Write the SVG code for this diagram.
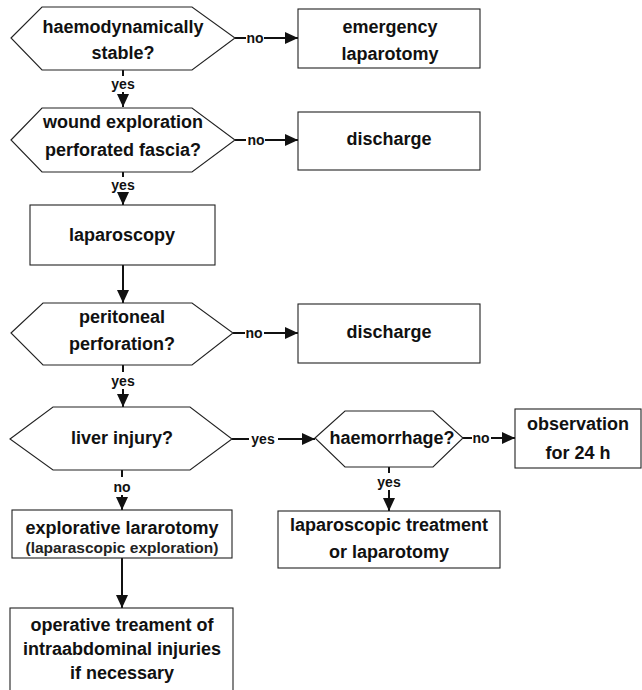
<svg xmlns="http://www.w3.org/2000/svg" width="642" height="690" viewBox="0 0 642 690">
<style>
.shape{fill:#fff;stroke:#222;stroke-width:1.1}
.t{font-family:"Liberation Sans",Arial,sans-serif;font-weight:bold;font-size:18px;fill:#111;text-anchor:middle}
.s{font-family:"Liberation Sans",Arial,sans-serif;font-weight:bold;font-size:15.5px;fill:#222;text-anchor:middle}
.lbl{font-family:"Liberation Sans",Arial,sans-serif;font-weight:bold;font-size:14px;fill:#111;text-anchor:middle}
.c{fill:none;stroke:#111;stroke-width:2}
.ca{fill:none;stroke:#111;stroke-width:2;marker-end:url(#ah)}
</style>
<defs>
<marker id="ah" markerUnits="userSpaceOnUse" markerWidth="14" markerHeight="12" refX="13" refY="6" orient="auto">
<path d="M0,0 L13,6 L0,12 Z" fill="#111"/>
</marker>
</defs>
<rect width="642" height="690" fill="#fff"/>

<g id="connectors">
<line class="c" x1="235" y1="38" x2="246" y2="38"/>
<line class="ca" x1="264" y1="38" x2="298" y2="38"/>
<line class="c" x1="123" y1="70" x2="123" y2="76"/>
<line class="ca" x1="123" y1="92" x2="123" y2="107"/>
<line class="c" x1="235" y1="140" x2="246" y2="140"/>
<line class="ca" x1="265" y1="140" x2="298" y2="140"/>
<line class="c" x1="123" y1="172" x2="123" y2="177"/>
<line class="ca" x1="123" y1="192" x2="123" y2="205"/>
<line class="ca" x1="123" y1="265" x2="123" y2="303"/>
<line class="c" x1="233" y1="333" x2="245" y2="333"/>
<line class="ca" x1="264" y1="333" x2="298" y2="333"/>
<line class="c" x1="123" y1="365" x2="123" y2="372"/>
<line class="ca" x1="123" y1="389" x2="123" y2="407"/>
<line class="c" x1="232" y1="439" x2="249" y2="439"/>
<line class="ca" x1="278" y1="439" x2="315" y2="439"/>
<line class="c" x1="463" y1="438" x2="472" y2="438"/>
<line class="ca" x1="491" y1="438" x2="515" y2="438"/>
<line class="c" x1="389" y1="467" x2="389" y2="473"/>
<line class="ca" x1="389" y1="490" x2="389" y2="511"/>
<line class="c" x1="122" y1="470" x2="122" y2="477"/>
<line class="ca" x1="122" y1="495" x2="122" y2="510"/>
<line class="ca" x1="122" y1="558" x2="122" y2="608"/>
<text class="lbl" x="255" y="43">no</text>
<text class="lbl" x="123" y="89">yes</text>
<text class="lbl" x="256" y="145">no</text>
<text class="lbl" x="123" y="190">yes</text>
<text class="lbl" x="254" y="338">no</text>
<text class="lbl" x="123" y="386">yes</text>
<text class="lbl" x="263" y="444">yes</text>
<text class="lbl" x="481" y="443">no</text>
<text class="lbl" x="389" y="487">yes</text>
<text class="lbl" x="122" y="492">no</text>
</g>

<g id="q-stable">
<polygon class="shape" points="11,38 42,7 192,7 235,38 192,70 42,70"/>
<text class="t" x="123" y="33">haemodynamically</text>
<text class="t" x="123" y="59">stable?</text>
</g>
<g id="emergency">
<rect class="shape" x="298" y="9" width="182" height="59"/>
<text class="t" x="390" y="33">emergency</text>
<text class="t" x="390" y="60">laparotomy</text>
</g>
<g id="q-wound">
<polygon class="shape" points="11,140 42,108 192,108 235,140 192,172 42,172"/>
<text class="t" x="123" y="128">wound exploration</text>
<text class="t" x="123" y="156">perforated fascia?</text>
</g>
<g id="discharge1">
<rect class="shape" x="298" y="112" width="182" height="58"/>
<text class="t" x="389" y="145">discharge</text>
</g>
<g id="laparoscopy">
<rect class="shape" x="30" y="205" width="185" height="60"/>
<text class="t" x="122" y="241">laparoscopy</text>
</g>
<g id="q-peritoneal">
<polygon class="shape" points="11,333 43,303 192,303 233,333 192,365 43,365"/>
<text class="t" x="122" y="323">peritoneal</text>
<text class="t" x="122" y="350">perforation?</text>
</g>
<g id="discharge2">
<rect class="shape" x="298" y="304" width="182" height="59"/>
<text class="t" x="389" y="338">discharge</text>
</g>
<g id="q-liver">
<polygon class="shape" points="10,439 53,407 190,407 232,439 190,470 53,470"/>
<text class="t" x="122" y="444">liver injury?</text>
</g>
<g id="q-haemorrhage">
<polygon class="shape" points="315,438 345,411 433,411 463,438 433,467 345,467"/>
<text class="t" x="392" y="444">haemorrhage?</text>
</g>
<g id="observation">
<rect class="shape" x="515" y="409" width="126" height="59"/>
<text class="t" x="578" y="430">observation</text>
<text class="t" x="578" y="459">for 24 h</text>
</g>
<g id="lap-treatment">
<rect class="shape" x="278" y="511" width="222" height="57"/>
<text class="t" x="389" y="531">laparoscopic treatment</text>
<text class="t" x="389" y="558">or laparotomy</text>
</g>
<g id="explorative">
<rect class="shape" x="12" y="510" width="220" height="48"/>
<text class="t" x="122" y="534">explorative lararotomy</text>
<text class="s" x="122" y="553">(laparascopic exploration)</text>
</g>
<g id="operative">
<rect class="shape" x="10" y="608" width="223" height="90"/>
<text class="t" x="122" y="631">operative treament of</text>
<text class="t" x="122" y="655">intraabdominal injuries</text>
<text class="t" x="122" y="679">if necessary</text>
</g>
</svg>
